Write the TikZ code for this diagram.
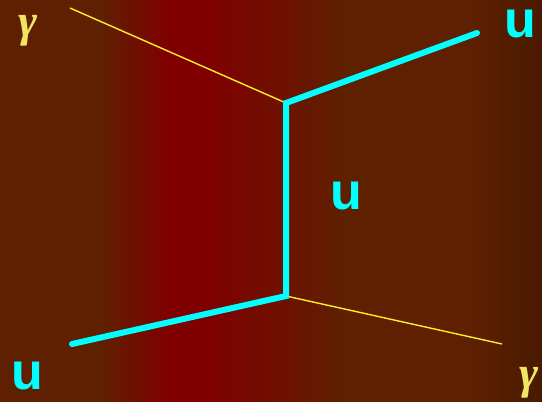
\documentclass[tikz,border=0pt]{standalone}
\usepackage{fontspec}
\setmainfont{Liberation Sans}
\newfontfamily\greekfont{Liberation Serif}
\definecolor{bgbrown}{RGB}{94,32,0}
\definecolor{bgred}{RGB}{128,0,0}
\definecolor{bgdark}{RGB}{74,26,0}
\definecolor{quarkcyan}{RGB}{0,255,255}
\definecolor{photonyellow}{RGB}{255,240,40}
\definecolor{gammayellow}{RGB}{240,230,100}
\tikzset{
  quark/.style={draw=quarkcyan,line width=6pt},
  photon/.style={draw=photonyellow,line width=1.4pt},
  qlabel/.style={text=quarkcyan,font=\fontsize{52}{52}\selectfont\bfseries,inner sep=0pt},
  glabel/.style={text=gammayellow,font=\fontsize{46}{46}\greekfont\bfseries\itshape,inner sep=0pt}
}
\begin{document}
\begin{tikzpicture}[x=1pt,y=-1pt]
    \useasboundingbox (0,0) rectangle (542,402);
    % background bands
    \fill[bgbrown] (0,0) rectangle (542,402);
    \shade[left color=bgbrown,right color=bgred] (100,0) rectangle (168,402);
    \fill[bgred] (167,0) rectangle (208,402);
    \shade[left color=bgred,right color=bgbrown] (207,0) rectangle (345,402);
    \shade[left color=bgbrown,right color=bgdark] (470,0) rectangle (542,402);
    % vertices and ends
    \coordinate (vtop) at (286,103);
    \coordinate (vbot) at (286,296);
    \coordinate (gin) at (70,8);
    \coordinate (uout) at (477,33);
    \coordinate (uin) at (72,344);
    \coordinate (gout) at (502,344);
    % lines
    \draw[photon] (gin) -- (vtop);
    \draw[photon] (vbot) -- (gout);
    \draw[quark,line cap=round,line join=miter] (uin) -- (vbot) -- (vtop) -- (uout);
    % labels
    \node[glabel] (gtl) at (28,31) {γ};
    \node[qlabel] (utr) at (520,24) {u};
    \node[qlabel] (umid) at (346,196) {u};
    \node[qlabel] (ubl) at (27,376) {u};
    \node[glabel] (gbr) at (529,383) {γ};
\end{tikzpicture}
\end{document}
